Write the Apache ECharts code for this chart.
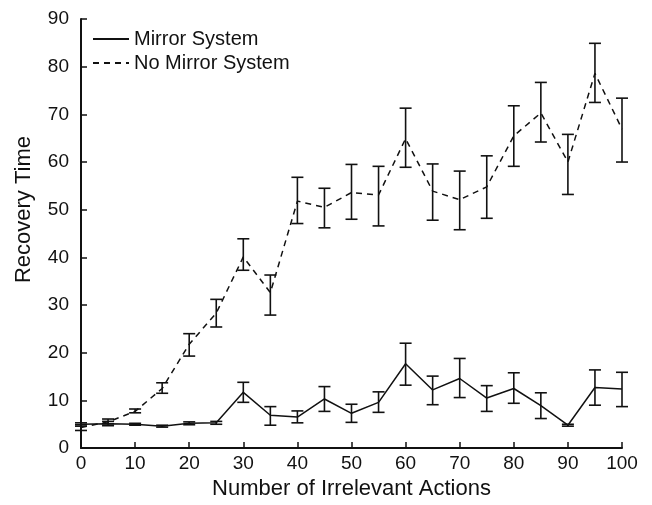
<!DOCTYPE html>
<html><head><meta charset="utf-8">
<script src="https://cdn.jsdelivr.net/npm/echarts@6/dist/echarts.min.js"></script>
<style>html,body{margin:0;padding:0;background:#fff}#c{width:652px;height:505px}</style>
</head><body><div id="c"></div>
<script>
const actions = [0,5,10,15,20,25,30,35,40,45,50,55,60,65,70,75,80,85,90,95,100];
const mirrorMean = [5.0,5.1,5.0,4.6,5.2,5.3,11.7,6.9,6.5,10.3,7.3,9.6,17.7,12.2,14.6,10.5,12.5,8.9,4.8,12.7,12.4];
const mirrorLow  = [4.6,4.7,4.8,4.4,4.9,5.0,9.6,4.8,5.3,7.7,5.4,7.5,13.2,9.1,10.6,7.7,9.4,6.2,4.6,9.0,8.7];
const mirrorHigh = [5.3,5.6,5.2,4.8,5.5,5.6,13.8,8.7,7.8,12.9,9.2,11.8,22.0,15.1,18.8,13.1,15.8,11.6,5.0,16.4,15.9];
const noMirrorMean = [4.3,5.5,7.7,12.5,21.8,28.3,40.1,32.6,51.8,50.5,53.6,53.1,64.9,53.9,52.1,54.8,65.5,70.3,60.0,78.6,66.9];
const noMirrorLow  = [3.7,5.1,7.4,11.5,19.3,25.4,37.3,27.9,47.1,46.2,48.0,46.6,58.9,47.8,45.8,48.2,59.1,64.2,53.2,72.5,60.0];
const noMirrorHigh = [4.9,6.1,8.2,13.7,24.0,31.2,43.9,36.3,56.8,54.5,59.5,59.1,71.3,59.6,58.1,61.3,71.8,76.7,65.8,84.9,73.4];
const xTicks = [0,10,20,30,40,50,60,70,80,90,100];
const yTicks = [0,10,20,30,40,50,60,70,80,90];

const font = 'Liberation Sans, Arial, Helvetica, sans-serif';
function errData(low, high){ return actions.map((x,i)=>[x, low[i], high[i]]); }
function errRender(params, api){
  const x = api.value(0);
  const lo = api.coord([x, api.value(1)]);
  const hi = api.coord([x, api.value(2)]);
  const w = 6;
  const st = {stroke:'#111', lineWidth:1.6};
  return {type:'group', children:[
    {type:'line', shape:{x1:lo[0],y1:lo[1],x2:hi[0],y2:hi[1]}, style:st},
    {type:'line', shape:{x1:lo[0]-w,y1:lo[1],x2:lo[0]+w,y2:lo[1]}, style:st},
    {type:'line', shape:{x1:hi[0]-w,y1:hi[1],x2:hi[0]+w,y2:hi[1]}, style:st}
  ]};
}
const chart = echarts.init(document.getElementById('c'), null, {renderer:'canvas'});
chart.setOption({
  animation:false,
  backgroundColor:'#fff',
  grid:{left:81, right:30, top:19, bottom:53},
  legend:{
    orient:'vertical', left:92, top:29, padding:0, itemWidth:36, itemHeight:14, itemGap:4,
    itemStyle:{opacity:0},
    textStyle:{fontFamily:font, fontSize:20, color:'#111', lineHeight:20},
    data:['Mirror System','No Mirror System']
  },
  xAxis:{
    type:'value', min:0, max:100, interval:10,
    name:'Number of Irrelevant Actions', nameLocation:'middle', nameGap:27,
    nameTextStyle:{fontFamily:font, fontSize:22, color:'#111'},
    axisLine:{lineStyle:{color:'#111', width:2}},
    axisTick:{inside:true, length:6, lineStyle:{color:'#111', width:1.5}},
    axisLabel:{fontFamily:font, fontSize:19, color:'#111', margin:6},
    splitLine:{show:false}
  },
  yAxis:{
    type:'value', min:0, max:90, interval:10,
    name:'Recovery Time', nameLocation:'middle', nameGap:46,
    nameTextStyle:{fontFamily:font, fontSize:22, color:'#111', padding:[0,0,0,48]},
    axisLine:{show:true, lineStyle:{color:'#111', width:2}},
    axisTick:{show:true, inside:true, length:6, lineStyle:{color:'#111', width:1.5}},
    axisLabel:{fontFamily:font, fontSize:19, color:'#111', margin:12},
    splitLine:{show:false}
  },
  series:[
    {name:'Mirror System', type:'line', data:actions.map((x,i)=>[x,mirrorMean[i]]), symbol:'none',
      lineStyle:{color:'#111', width:1.5, type:'solid'}, itemStyle:{color:'#111'}},
    {name:'No Mirror System', type:'line', data:actions.map((x,i)=>[x,noMirrorMean[i]]), symbol:'none',
      lineStyle:{color:'#111', width:1.5, type:[6,5]}, itemStyle:{color:'#111'}},
    {type:'custom', renderItem:errRender, data:errData(mirrorLow, mirrorHigh), encode:{x:0,y:[1,2]}, z:3},
    {type:'custom', renderItem:errRender, data:errData(noMirrorLow, noMirrorHigh), encode:{x:0,y:[1,2]}, z:3}
  ]
});
</script></body></html>
